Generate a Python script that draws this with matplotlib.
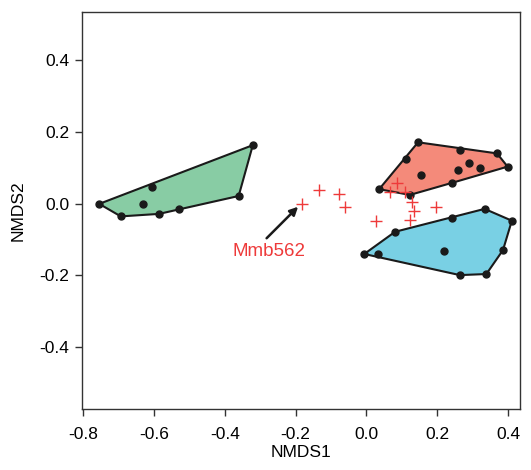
import numpy as np
import matplotlib
matplotlib.use("Agg")
import matplotlib.pyplot as plt

plt.rcParams['font.family'] = ['Liberation Sans', 'DejaVu Sans']

# Group A (green)
green_x = [-0.755, -0.694, -0.586, -0.530, -0.361, -0.321, -0.605, -0.631]
green_y = [-0.001, -0.036, -0.029, -0.015, 0.021, 0.163, 0.046, -0.001]
# Group B (red)
red_x = [0.146, 0.264, 0.369, 0.399, 0.243, 0.123, 0.036, 0.111, 0.153, 0.259, 0.290, 0.321]
red_y = [0.171, 0.149, 0.140, 0.103, 0.058, 0.024, 0.040, 0.124, 0.080, 0.094, 0.114, 0.100]
# Group C (blue)
blue_x = [-0.006, 0.034, 0.081, 0.243, 0.334, 0.411, 0.386, 0.339, 0.264, 0.219]
blue_y = [-0.141, -0.141, -0.079, -0.040, -0.015, -0.048, -0.130, -0.197, -0.200, -0.132]
# Crosses
cross_x = [-0.183, -0.135, -0.077, -0.061, 0.087, 0.068, 0.110, 0.130, 0.134, 0.124, 0.196, 0.026]
cross_y = [-0.001, 0.038, 0.027, -0.011, 0.058, 0.033, 0.031, 0.005, -0.020, -0.046, -0.011, -0.049]

label_text = "Mmb562"
label_xy = (-0.275, -0.135)
arrow_tail = (-0.282, -0.097)
arrow_head = (-0.193, -0.009)

xticks = [-0.8, -0.6, -0.4, -0.2, 0.0, 0.2, 0.4]
yticks = [-0.4, -0.2, 0.0, 0.2, 0.4]


def hull(xs, ys):
    pts = sorted(set(zip(xs, ys)))
    def cross(o, a, b):
        return (a[0]-o[0])*(b[1]-o[1]) - (a[1]-o[1])*(b[0]-o[0])
    lower = []
    for p in pts:
        while len(lower) >= 2 and cross(lower[-2], lower[-1], p) <= 0:
            lower.pop()
        lower.append(p)
    upper = []
    for p in reversed(pts):
        while len(upper) >= 2 and cross(upper[-2], upper[-1], p) <= 0:
            upper.pop()
        upper.append(p)
    return np.array(lower[:-1] + upper[:-1])


fig = plt.figure(figsize=(5.31, 4.70), dpi=100)
ax = fig.add_axes([0.1544, 0.1298, 0.8246, 0.8447])

for xs, ys, col in [(green_x, green_y, '#88CCA4'),
                    (red_x, red_y, '#F48A7A'),
                    (blue_x, blue_y, '#79D0E4')]:
    h = hull(xs, ys)
    ax.add_patch(plt.Polygon(h, closed=True, facecolor=col, edgecolor='#1a1a1a',
                             linewidth=1.5, zorder=2))
    ax.plot(xs, ys, 'o', color='#1a1a1a', markersize=5, zorder=3)

ax.plot(cross_x, cross_y, '+', color='#EE3A3A', markersize=8, markeredgewidth=1.0, zorder=4)

ax.annotate('', xy=arrow_head, xytext=arrow_tail,
            arrowprops=dict(arrowstyle='-|>', color='#1a1a1a', lw=1.8,
                            mutation_scale=12, shrinkA=0, shrinkB=0), zorder=5)
ax.text(label_xy[0], label_xy[1], label_text, color='#EE3A3A', fontsize=13.5,
        ha='center', va='center')

ax.set_xlim(-0.8037, 0.4336)
ax.set_ylim(-0.574, 0.535)
ax.set_xticks(xticks)
ax.set_yticks(yticks)
ax.set_xticklabels([f"{v:.1f}" for v in xticks])
ax.set_yticklabels([f"{v:.1f}" for v in yticks])
ax.tick_params(direction='out', length=5, width=1, labelsize=12.5, color='#333333')
ax.tick_params(axis='x', pad=8)
ax.tick_params(axis='y', pad=4)
for s in ax.spines.values():
    s.set_linewidth(1.0)
    s.set_color('#333333')
ax.set_xlabel('NMDS1', fontsize=12.5, labelpad=2)
ax.set_ylabel('NMDS2', fontsize=12.5, labelpad=10)

fig.savefig('out.png', dpi=100)
